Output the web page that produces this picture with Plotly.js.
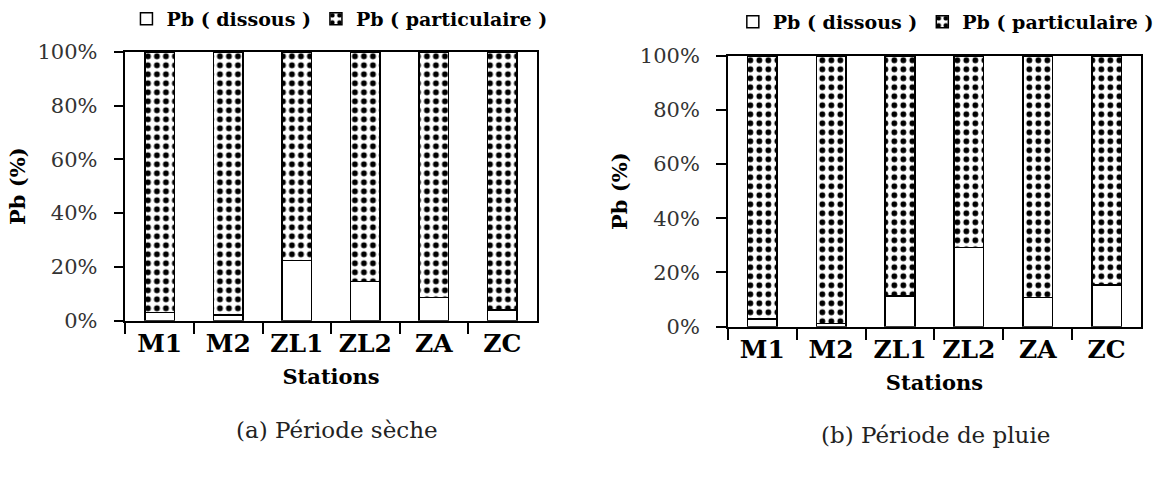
<!DOCTYPE html>
<html>
<head>
<meta charset="utf-8">
<script src="https://cdn.plot.ly/plotly-3.0.1.min.js"></script>
<style>
html,body{margin:0;padding:0;background:#fff;}
#chart{width:1159px;height:480px;}
</style>
</head>
<body>
<div id="chart"></div>
<script>
// Data
const stations = ["M1", "M2", "ZL1", "ZL2", "ZA", "ZC"];
const dissousSeche = [3.1, 2.2, 22.3, 14.6, 8.7, 4.0];
const particulaireSeche = [96.9, 97.8, 77.7, 85.4, 91.3, 96.0];
const dissousPluie = [2.8, 1.2, 11.4, 29.2, 10.8, 15.3];
const particulairePluie = [97.2, 98.8, 88.6, 70.8, 89.2, 84.7];
const yTicks = [0, 20, 40, 60, 80, 100];
const yTickText = ["0%", "20%", "40%", "60%", "80%", "100%"];
const nameDissous = "Pb ( dissous )";
const namePart = "Pb ( particulaire )";
const captionA = "(a) Période sèche";
const captionB = "(b) Période de pluie";

const W = 1159, H = 480;
const SERIF = "'DejaVu Serif', 'Liberation Serif', serif";
const barW = 0.43;
const outline = {color: "#000", width: 1.5};
const dotPattern = {shape: ".", fgcolor: "#000", bgcolor: "#fff", size: 9, solidity: 0.33, fillmode: "replace"};

function bars(y, name, pattern, xa, ya, leg) {
  const m = {color: "#fff", line: outline};
  if (pattern) m.pattern = pattern;
  return {type: "bar", x: stations, y: y, name: name, xaxis: xa, yaxis: ya,
          legend: leg, width: barW, marker: m, hoverinfo: "x+y"};
}

const data = [
  bars(dissousSeche, nameDissous, null, "x", "y", "legend"),
  bars(particulaireSeche, namePart, dotPattern, "x", "y", "legend"),
  bars(dissousPluie, nameDissous, null, "x2", "y2", "legend2"),
  bars(particulairePluie, namePart, dotPattern, "x2", "y2", "legend2")
];

function xAxis(d, anchor) {
  return {domain: d, anchor: anchor, type: "category", tickson: "boundaries",
    ticks: "outside", ticklen: 12, tickwidth: 1.5, tickcolor: "#000",
    showline: true, linecolor: "#000", linewidth: 1.5, mirror: true,
    showgrid: false, zeroline: false, fixedrange: true,
    tickfont: {family: SERIF, size: 25, color: "#000", weight: "bold"},
    title: {text: "Stations", standoff: 12, font: {family: SERIF, size: 21, color: "#000", weight: "bold"}}};
}
function yAxis(d, anchor) {
  return {domain: d, anchor: anchor, range: [0, 100], tickmode: "array",
    tickvals: yTicks, ticktext: yTickText, ticks: "outside", ticklen: 10,
    tickwidth: 1.5, tickcolor: "#000", ticklabelstandoff: 12,
    showline: true, linecolor: "#000", linewidth: 1.5, mirror: true,
    showgrid: false, zeroline: false, fixedrange: true,
    tickfont: {family: SERIF, size: 21, color: "#333"},
    title: {text: "Pb (%)", standoff: 6, font: {family: SERIF, size: 21, color: "#000", weight: "bold"}}};
}
function legendAt(xpx, ypx) {
  return {orientation: "h", x: xpx / W, y: 1 - ypx / H, xanchor: "left", yanchor: "middle",
    font: {family: SERIF, size: 19, color: "#000", weight: "bold"},
    itemwidth: 30, tracegroupgap: 0, bgcolor: "rgba(0,0,0,0)", borderwidth: 0,
    traceorder: "normal", itemclick: false, itemdoubleclick: false};
}

const layout = {
  width: W, height: H,
  margin: {l: 0, r: 0, t: 0, b: 0},
  paper_bgcolor: "#fff", plot_bgcolor: "#fff",
  barmode: "stack", bargap: 0.57,
  showlegend: true,
  xaxis: xAxis([126 / W, 539 / W], "y"),
  yaxis: yAxis([(H - 320) / H, (H - 50) / H], "x"),
  xaxis2: xAxis([731 / W, 1146 / W], "y2"),
  yaxis2: yAxis([(H - 326) / H, (H - 54) / H], "x2"),
  legend: legendAt(127, 17),
  legend2: legendAt(736, 20),
  annotations: [
    {text: captionA, x: 338 / W, y: 1 - 430 / H, xref: "paper", yref: "paper",
     xanchor: "center", yanchor: "middle", showarrow: false,
     font: {family: SERIF, size: 23, color: "#222"}},
    {text: captionB, x: 940 / W, y: 1 - 435 / H, xref: "paper", yref: "paper",
     xanchor: "center", yanchor: "middle", showarrow: false,
     font: {family: SERIF, size: 23, color: "#222"}}
  ]
};

Plotly.newPlot("chart", data, layout, {displayModeBar: false, responsive: false});
</script>
</body>
</html>
